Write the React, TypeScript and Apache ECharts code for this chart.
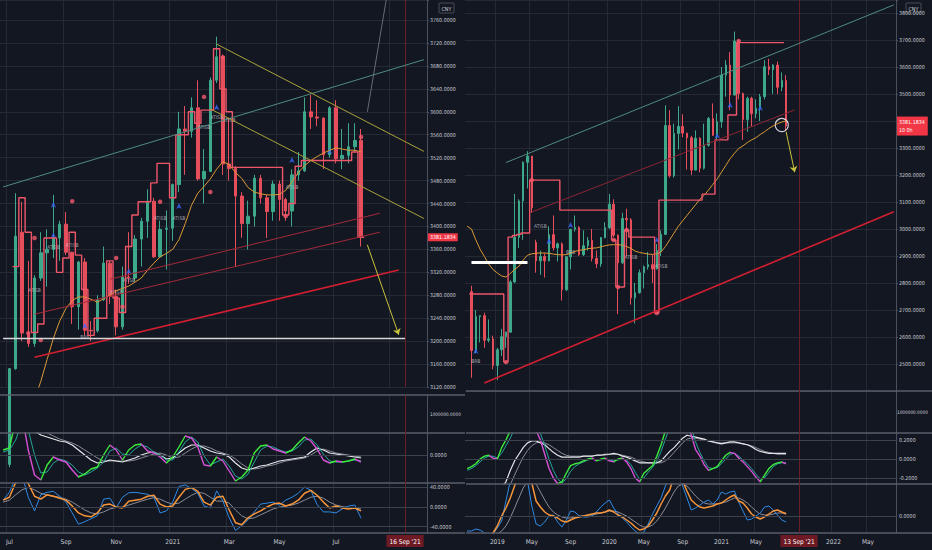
import React, { useEffect, useRef } from "react";
import * as echarts from "echarts";

// ---------- categories / time axes ----------
const LEFT_START = "2020-06-22";
const LEFT_COUNT = 68;
const LEFT_STEP = 7;
const RIGHT_START = "2018-09-24";
const RIGHT_COUNT = 100;
const RIGHT_STEP = 14;
const LEFT_LABEL_MONTHS = [0, 2, 4, 6, 8, 10];
const RIGHT_LABEL_MONTHS = [0, 4, 8];
const MONTH_NAMES = ["Jan", "Feb", "Mar", "Apr", "May", "Jun", "Jul", "Aug", "Sep", "Oct", "Nov", "Dec"];

const LEFT_TODAY_IDX = 64;
const LEFT_TODAY_TEXT = "16 Sep '21";
const RIGHT_TODAY_IDX = 77;
const RIGHT_TODAY_TEXT = "13 Sep '21";
const LAST_PRICE = 3381.1834;
const RIGHT_COUNTDOWN = "10 0h";

// ---------- tick levels ----------
const LEFT_PRICE_MIN = 3120;
const LEFT_PRICE_TOP = 3795;
const LEFT_PRICE_STEP = 40;
const LEFT_PRICE_LAST_LABEL = 3760;
const RIGHT_PRICE_MIN = 2400;
const RIGHT_PRICE_TOP = 3848;
const RIGHT_PRICE_STEP = 100;
const RIGHT_PRICE_FIRST_LABEL = 2500;
const RIGHT_PRICE_LAST_LABEL = 3800;
const VOLUME_LEVELS = [1000000];
const LEFT_OSC1_LEVELS = [0];
const LEFT_OSC2_LEVELS = [40, 0, -40];
const RIGHT_OSC1_LEVELS = [0.2, 0, -0.2];
const RIGHT_OSC2_LEVELS = [0];

// ---------- left chart (weekly) : [open, close, low, high] ----------
const LEFT_CANDLE_START = 1;
const leftCandles = [
  [2985, 3152, 2980, 3153], [3152, 3383, 3150, 3458], [3390, 3214, 3200, 3443], [3214, 3196, 3190, 3340],
  [3196, 3310, 3190, 3315], [3310, 3354, 3305, 3390], [3354, 3360, 3295, 3395], [3360, 3380, 3345, 3455],
  [3380, 3404, 3340, 3410], [3404, 3355, 3350, 3425], [3355, 3260, 3230, 3356], [3260, 3338, 3220, 3340],
  [3338, 3219, 3210, 3345], [3219, 3218, 3200, 3235], [3218, 3272, 3215, 3280], [3272, 3336, 3270, 3365],
  [3336, 3278, 3265, 3340], [3278, 3225, 3210, 3290], [3225, 3312, 3220, 3330], [3312, 3310, 3300, 3390],
  [3310, 3378, 3305, 3385], [3378, 3409, 3330, 3415], [3409, 3444, 3380, 3465], [3444, 3347, 3345, 3450],
  [3347, 3395, 3345, 3410], [3395, 3397, 3325, 3428], [3397, 3473, 3375, 3475], [3473, 3570, 3460, 3600],
  [3570, 3566, 3490, 3610], [3566, 3607, 3555, 3625], [3607, 3483, 3480, 3655], [3483, 3496, 3440, 3535],
  [3496, 3655, 3495, 3660], [3655, 3696, 3650, 3731], [3696, 3509, 3490, 3700], [3509, 3501, 3480, 3590],
  [3501, 3453, 3330, 3505], [3453, 3405, 3380, 3460], [3405, 3418, 3360, 3445], [3418, 3484, 3400, 3490],
  [3484, 3450, 3440, 3490], [3450, 3426, 3380, 3455], [3426, 3474, 3410, 3480], [3474, 3447, 3410, 3480],
  [3447, 3427, 3410, 3450], [3427, 3490, 3400, 3500], [3490, 3497, 3480, 3530], [3497, 3600, 3495, 3625],
  [3600, 3591, 3570, 3630], [3591, 3589, 3575, 3620], [3589, 3525, 3500, 3590], [3525, 3607, 3520, 3610],
  [3607, 3518, 3510, 3620], [3518, 3524, 3500, 3570], [3524, 3539, 3510, 3580], [3539, 3550, 3530, 3580],
  [3550, 3381, 3365, 3570],
];
const leftMA = [
  null, null, null, null, 3070, 3098, 3130, 3168, 3205, 3235,
  3257, 3271, 3277, 3277, 3273, 3268, 3274, 3280, 3288, 3292,
  3296, 3303, 3310, 3324, 3336, 3347, 3353, 3360, 3377, 3405,
  3437, 3458, 3470, 3483, 3500, 3513, 3508, 3494, 3484, 3468,
  3460, 3457, 3455, 3455, 3456, 3463, 3478, 3494, 3506, 3515,
  3522, 3528, 3533, 3537, 3535, 3533, 3533, 3530,
];
const leftStop = [
  null, null, 3330, 3450, 3390, 3215, 3230, 3380, 3380, 3320,
  3345, 3390, 3350, 3290, 3210, 3240, 3240, 3340, 3275, 3250,
  3365, 3420, 3443, 3443, 3476, 3510, 3510, 3450, 3560, 3560,
  3600, 3580, 3603, 3603, 3710, 3640, 3600, 3503, 3503, 3503,
  3503, 3503, 3503, 3503, 3503, 3420, 3440, 3505, 3515, 3515,
  3515, 3515, 3515, 3515, 3515, 3515, 3530, 3381,
];
const leftRedDots = [[4, 3214], [5, 3380], [6, 3202], [11, 3444], [18, 3345], [19, 3260], [25, 3443], [32, 3626], [33, 3460], [35, 3695], [45, 3418], [57, 3556]];
const leftBlueMarks = [[8, 3443], [8, 3390], [13, 3232], [20, 3327], [28, 3441], [34, 3613], [46, 3521], [52, 3537]];
const leftTags = [
  [5, 3289, "ATISB"], [8, 3364, "ATISB"], [11, 3368, "ATISB"], [18, 3286, "ATISB"], [20, 3307, "ATISB"],
  [25, 3415, "ATISB"], [28, 3415, "ATISB"], [32, 3573, "ATISB"], [34, 3591, "ATISB"], [36, 3586, "ATISB"],
  [46, 3469, "ATISB"], [13, 3207, "BRB"],
];
// trend lines: [fromIdx, fromPrice, toIdx, toPrice]
const leftTealLine = [0, 3469, 67, 3691];
const leftSteepLine = [58, 3600, 61, 3795];
const leftYellowUpper = [34, 3718, 67, 3531];
const leftYellowLower = [33, 3605, 67, 3414];
const leftRedThick = [5, 3172, 63, 3324];
const leftRedThinA = [5, 3247, 60, 3390];
const leftRedThinB = [17, 3308, 60, 3423];
const leftWhiteLevel = [0, 3205, 64, 3205];
const leftYellowArrow = [58, 3368, 63, 3211];

const leftOscFast = [
  0.05, 0.07, 0.35, 0.40, 0.05, -0.20, -0.25, -0.10, -0.02, -0.05,
  -0.07, -0.15, -0.22, -0.19, -0.14, -0.12, 0.00, 0.10, 0.05, -0.05,
  0.05, 0.10, 0.11, 0.04, 0.02, -0.02, -0.08, -0.02, 0.08, 0.19,
  0.17, 0.08, -0.10, -0.11, -0.02, -0.06, -0.16, -0.26, -0.22, -0.15,
  0.02, 0.09, 0.10, 0.06, 0.04, 0.02, 0.05, 0.12, 0.18, 0.14,
  0.06, -0.05, -0.08, -0.06, -0.07, -0.06, -0.04, -0.07,
];
const leftOscSignal = [
  0.03, 0.05, 0.15, 0.33, 0.25, 0.0, -0.18, -0.17, -0.08, -0.04,
  -0.06, -0.10, -0.17, -0.20, -0.17, -0.13, -0.07, 0.04, 0.07, 0.01,
  0.0, 0.06, 0.10, 0.08, 0.03, 0.0, -0.05, -0.05, 0.03, 0.13,
  0.18, 0.13, -0.01, -0.10, -0.07, -0.04, -0.11, -0.21, -0.24, -0.19,
  -0.07, 0.05, 0.09, 0.08, 0.05, 0.03, 0.04, 0.08, 0.15, 0.16,
  0.10, 0.01, -0.06, -0.07, -0.07, -0.06, -0.05, -0.06,
];
const leftOscSlow = [
  0.45, 0.5, 0.5, 0.45, 0.32, 0.24, 0.20, 0.18, 0.16, 0.14,
  0.13, 0.10, 0.05, 0.0, -0.05, -0.08, -0.07, -0.05, -0.06, -0.07,
  -0.05, -0.03, 0.0, 0.02, 0.03, 0.0, -0.04, -0.03, 0.02, 0.07,
  0.10, 0.10, 0.07, 0.04, 0.02, 0.01, -0.02, -0.08, -0.13, -0.15,
  -0.13, -0.11, -0.10, -0.08, -0.06, -0.05, -0.04, -0.03, -0.02, 0.03,
  0.07, 0.05, 0.02, 0.01, 0.0, -0.01, -0.02, -0.03,
];
const leftOscSlowSignal = [
  0.5, 0.5, 0.5, 0.48, 0.42, 0.34, 0.27, 0.22, 0.19, 0.16,
  0.14, 0.12, 0.09, 0.05, 0.01, -0.03, -0.06, -0.06, -0.06, -0.06,
  -0.06, -0.05, -0.03, -0.01, 0.01, 0.02, 0.0, -0.03, -0.02, 0.02,
  0.06, 0.09, 0.09, 0.07, 0.04, 0.02, 0.0, -0.04, -0.09, -0.13,
  -0.14, -0.13, -0.11, -0.1, -0.08, -0.06, -0.05, -0.04, -0.03, 0.0,
  0.04, 0.06, 0.04, 0.02, 0.01, 0.0, -0.01, -0.02,
];
const leftMomOrange = [
  14, 20, 50, 60, 48, 22, 16, 25, 22, 18,
  14, 2, -12, -18, -20, -12, 4, 6, 0, -2,
  12, 14, 16, 22, 24, 6, 0, 2, 20, 36,
  40, 32, 10, 4, 20, 22, -6, -32, -36, -22,
  -14, -8, 0, 6, 8, 2, 6, 14, 28, 34,
  24, 10, -2, 2, -2, -4, -2, -8,
];
const leftMomBlue = [
  14, 30, 60, 65, 20, -8, 25, 30, 32, 22,
  10, -12, -35, -30, -24, -18, 16, 18, -2, 20,
  29, 30, 28, 26, 20, -12, -8, 10, 42, 45,
  38, 28, 2, -2, 33, 12, -22, -48, -38, -26,
  -10, 6, 8, 10, 4, 14, 20, 28, 41, 34,
  5, -10, -10, -12, -4, 2, 4, -23,
];
const leftMomGray = [
  10, 14, 25, 35, 40, 35, 28, 24, 22, 20,
  16, 10, 2, -6, -12, -14, -10, -4, -1, 0,
  4, 8, 12, 16, 19, 16, 10, 6, 8, 16,
  24, 30, 28, 20, 12, 12, 8, -6, -18, -24,
  -22, -16, -10, -4, 0, 2, 4, 8, 14, 20,
  22, 18, 10, 4, 1, -1, -2, -4,
];

// ---------- right chart (two-week bars) : [open, close, low, high] ----------
const RIGHT_CANDLE_START = 1;
const rightCandles = [
  [2768, 2550, 2449, 2790], [2550, 2676, 2540, 2700], [2676, 2679, 2580, 2680], [2679, 2588, 2560, 2690],
  [2588, 2593, 2580, 2665], [2593, 2494, 2480, 2605], [2494, 2553, 2440, 2560], [2553, 2601, 2530, 2630],
  [2601, 2618, 2560, 2620], [2618, 2804, 2615, 2810], [2804, 2969, 2800, 3130], [2969, 3104, 2930, 3110],
  [3104, 3247, 2960, 3250], [3247, 3270, 3150, 3288], [3270, 3078, 3060, 3270], [2950, 2882, 2838, 2960],
  [2882, 2898, 2830, 2920], [2898, 2882, 2820, 2910], [2882, 2979, 2880, 3010], [2979, 2930, 2920, 3050],
  [2930, 2945, 2880, 2950], [2945, 2775, 2735, 2950], [2775, 2897, 2770, 2900], [2897, 2999, 2850, 3000],
  [2999, 3006, 2990, 3050], [3006, 2905, 2900, 3010], [2905, 2938, 2900, 2995], [2938, 2958, 2920, 2970],
  [2958, 2891, 2880, 3000], [2891, 2871, 2855, 2920], [2871, 2968, 2860, 2970], [2968, 3005, 2965, 3025],
  [3005, 3092, 3000, 3130], [3092, 2977, 2970, 3110], [2977, 2875, 2685, 2980], [2875, 3039, 2870, 3060],
  [3039, 3034, 2900, 3075], [3034, 2745, 2720, 3040], [2745, 2764, 2650, 2800], [2764, 2838, 2760, 2850],
  [2838, 2860, 2780, 2865], [2860, 2868, 2850, 2915], [2868, 2852, 2800, 2905], [2852, 2920, 2850, 2945],
  [2920, 2980, 2900, 2995], [2980, 3383, 2980, 3458], [3383, 3197, 3190, 3440], [3197, 3354, 3190, 3390],
  [3354, 3380, 3295, 3455], [3380, 3355, 3340, 3425], [3355, 3338, 3220, 3356], [3338, 3218, 3200, 3345],
  [3218, 3336, 3218, 3365], [3336, 3225, 3210, 3340], [3225, 3310, 3220, 3390], [3310, 3409, 3305, 3415],
  [3409, 3347, 3345, 3465], [3347, 3397, 3325, 3428], [3397, 3570, 3375, 3600], [3570, 3607, 3490, 3625],
  [3607, 3496, 3440, 3655], [3496, 3696, 3495, 3731], [3696, 3502, 3480, 3700], [3502, 3405, 3330, 3505],
  [3405, 3484, 3360, 3490], [3484, 3427, 3380, 3490], [3427, 3447, 3410, 3480], [3447, 3490, 3400, 3500],
  [3490, 3601, 3480, 3625], [3601, 3590, 3570, 3630], [3590, 3607, 3500, 3610], [3607, 3525, 3500, 3620],
  [3525, 3550, 3510, 3580], [3550, 3381, 3365, 3570],
];
const rightMA = [
  3010, 3000, 2960, 2925, 2898, 2870, 2850, 2837, 2826, 2822,
  2835, 2850, 2862, 2885, 2903, 2908, 2910, 2911, 2911, 2910,
  2907, 2905, 2904, 2905, 2910, 2917, 2921, 2923, 2927, 2929,
  2930, 2934, 2938, 2941, 2942, 2942, 2940, 2935, 2928, 2918,
  2913, 2910, 2907, 2906, 2908, 2915, 2935, 2960, 2985, 3010,
  3030, 3050, 3070, 3090, 3110, 3125, 3144, 3165, 3185, 3210,
  3235, 3260, 3280, 3298, 3308, 3320, 3330, 3338, 3350, 3360,
  3372, 3382, 3390, 3396, 3400,
];
const rightStop = [
  null, 2759, 2759, 2759, 2759, 2759, 2759, 2759, 2759, 2507,
  2970, 2976, 2980, 2985, 2985, 3181, 3181, 3181, 3181, 3181,
  3181, 3181, 3070, 3070, 3070, 3070, 3070, 3070, 3070, 3070,
  3070, 3070, 3070, 3070, 2959, 2785, 2785, 2996, 2970, 2970,
  2970, 2970, 2970, 2970, 2689, 3107, 3107, 3107, 3107, 3107,
  3107, 3107, 3107, 3107, 3107, 3129, 3129, 3129, 3330, 3330,
  3330, 3422, 3422, 3690, 3690, 3690, 3690, 3690, 3690, 3690,
  3690, 3690, 3690, 3690, null,
];
const rightRedDots = [[9, 2507], [15, 3181], [34, 2959], [35, 2785], [37, 2996], [44, 2689], [63, 3696]];
const rightBlueMarks = [[2, 2559], [19, 2967], [24, 3026], [44, 2970], [58, 3356], [61, 3470], [68, 3459]];
const rightTags = [[2, 2511, "BRB"], [17, 3011, "ATISB"], [24, 2915, "BRB"], [38, 2896, "ATISB"], [45, 2863, "ATISB"]];
const rightTealLine = [9, 3246, 99, 3830];
const rightRedThin = [15, 3063, 76, 3441];
const rightRedThick = [4, 2430, 99, 3064];
const rightWhiteLevel = [1, 2878, 14, 2878];
const rightYellowArrow = [74, 3360, 76, 3210];
const rightCircle = [73, 3385];

const rightOscFast = [
  -0.1, -0.08, -0.05, 0.0, 0.03, 0.04, 0.01, 0.0, 0.12, 0.2,
  0.3, 0.4, 0.5, 0.5, 0.45, 0.4, 0.3, 0.2, 0.05, -0.1,
  -0.2, -0.26, -0.24, -0.15, -0.07, -0.05, -0.04, -0.02, 0.0, 0.01,
  -0.02, 0.0, 0.01, -0.02, -0.03, 0.0, 0.01, -0.03, -0.1, -0.2,
  -0.24, -0.15, -0.11, -0.07, 0.03, 0.15, 0.3, 0.4, 0.5, 0.5,
  0.45, 0.4, 0.25, 0.1, 0.03, -0.06, -0.12, -0.1, -0.08, -0.02,
  0.04, 0.07, 0.06, 0.01, -0.03, -0.08, -0.13, -0.19, -0.24, -0.17,
  -0.1, -0.06, -0.04, -0.03, -0.05,
];
const rightOscSignal = [
  -0.12, -0.1, -0.07, -0.03, 0.01, 0.03, 0.03, 0.01, 0.06, 0.14,
  0.22, 0.32, 0.42, 0.48, 0.48, 0.44, 0.37, 0.27, 0.14, 0.0,
  -0.12, -0.21, -0.25, -0.21, -0.13, -0.08, -0.05, -0.03, -0.01, 0.0,
  -0.01, -0.01, 0.0, -0.01, -0.02, -0.01, 0.0, -0.01, -0.06, -0.14,
  -0.21, -0.2, -0.14, -0.09, -0.02, 0.08, 0.21, 0.34, 0.44, 0.48,
  0.47, 0.43, 0.33, 0.18, 0.07, -0.02, -0.09, -0.1, -0.09, -0.05,
  0.0, 0.05, 0.06, 0.03, -0.01, -0.05, -0.1, -0.16, -0.21, -0.2,
  -0.14, -0.08, -0.05, -0.04, -0.04,
];
const rightOscSlow = [
  -0.6, -0.6, -0.6, -0.58, -0.55, -0.5, -0.45, -0.38, -0.3, -0.24,
  -0.12, -0.02, 0.05, 0.12, 0.17, 0.19, 0.19, 0.17, 0.15, 0.11,
  0.07, 0.04, 0.02, 0.02, 0.02, 0.02, 0.02, 0.03, 0.03, 0.03,
  0.04, 0.04, 0.05, 0.05, 0.06, 0.05, 0.03, 0.02, 0.0, -0.02,
  -0.04, -0.04, -0.04, -0.04, -0.04, -0.02, 0.03, 0.08, 0.12, 0.17,
  0.22, 0.25, 0.24, 0.23, 0.22, 0.21, 0.19, 0.18, 0.17, 0.16,
  0.17, 0.18, 0.18, 0.17, 0.16, 0.15, 0.13, 0.1, 0.08, 0.07,
  0.06, 0.06, 0.06, 0.06, 0.06,
];
const rightOscSlowSignal = [
  -0.6, -0.6, -0.6, -0.6, -0.6, -0.58, -0.54, -0.48, -0.42, -0.35,
  -0.27, -0.17, -0.07, 0.02, 0.09, 0.14, 0.17, 0.18, 0.17, 0.15,
  0.12, 0.09, 0.06, 0.04, 0.03, 0.03, 0.03, 0.03, 0.03, 0.03,
  0.04, 0.04, 0.04, 0.05, 0.05, 0.05, 0.04, 0.03, 0.02, 0.0,
  -0.02, -0.03, -0.04, -0.04, -0.04, -0.04, -0.02, 0.02, 0.07, 0.12,
  0.17, 0.21, 0.22, 0.22, 0.21, 0.2, 0.19, 0.18, 0.17, 0.17,
  0.17, 0.17, 0.17, 0.17, 0.16, 0.15, 0.14, 0.12, 0.1, 0.08,
  0.07, 0.06, 0.05, 0.05, 0.05,
];
const rightMomOrange = [
  -30, -30, -28, -26, -24, -22, -17, -10, 0, 8,
  18, 30, 42, 50, 48, 33, 15, 9, 4, 1,
  0, -2, -5, -6, -4, -2, -1, 0, 1, 2,
  3, 3, 4, 6, 4, 1, -1, -4, -7, -11,
  -14, -13, -10, -4, 3, 12, 20, 26, 40, 45,
  35, 25, 16, 12, 9, 8, 9, 10, 12, 13,
  16, 19, 21, 15, 13, 8, 2, -1, -3, -1,
  2, 5, 6, 4, 2,
];
const rightMomBlue = [
  -15, -15, -13, -14, -17, -20, -18, -12, -5, 15,
  35, 50, 55, 50, 35, 10, -8, -10, -6, 0,
  1, -6, -11, -4, 5, 4, 0, -1, -1, 0,
  4, 9, 13, 16, 8, 2, -2, -6, -11, -15,
  -18, -16, -8, 2, 10, 18, 30, 40, 45, 40,
  30, 18, 6, 8, 11, 14, 16, 12, 16, 24,
  22, 24, 25, 14, 5, -4, -3, 0, 3, 9,
  10, 6, 1, -4, -6,
];
const rightMomGray = [
  -20, -20, -20, -20, -20, -20, -20, -18, -15, -10,
  -2, 8, 18, 28, 34, 36, 32, 24, 16, 9,
  4, 1, -1, -2, -2, -1, 0, 0, 1, 1,
  2, 3, 4, 5, 5, 4, 2, 0, -3, -6,
  -9, -11, -11, -9, -5, 1, 8, 16, 24, 30,
  32, 30, 25, 20, 16, 13, 12, 12, 12, 13,
  14, 16, 18, 18, 16, 13, 9, 5, 2, 1,
  1, 2, 3, 3, 3,
];

// ---------- styling ----------
const BG = "#131722";
const GRID = "#252934";
const AXIS = "#4c505b";
const SEP = "#5a5e6a";
const TEXT = "#c9ccd3";
const UP = "#3ea98a";
const DOWN = "#e64e5c";
const STOP = "#f0566a";
const MA = "#dc9a36";
const TODAY = "#6a1d27";
const FONT = "'Liberation Sans Narrow','DejaVu Sans Condensed',Roboto,sans-serif";
const AXIS_FS = 5.3;
const VOLUME_FS = 4.7;

// ---------- helpers ----------
const DAY = 86400000;
function parseDate(s: string) {
  const [y, m, d] = s.split("-").map(Number);
  return Date.UTC(y, m - 1, d);
}
function buildCats(start: string, count: number, step: number) {
  const t0 = parseDate(start);
  const out: string[] = [];
  for (let i = 0; i < count; i++) out.push(new Date(t0 + i * step * DAY).toISOString().slice(0, 10));
  return out;
}
function buildLabels(start: string, count: number, step: number, months: number[], todayIdx: number) {
  const t0 = parseDate(start);
  const map: Record<number, string> = {};
  for (let i = 0; i < count; i++) {
    if (Math.abs(i - todayIdx) <= 1) continue; // hidden behind the date marker
    for (let k = 0; k < step; k++) {
      const d = new Date(t0 + (i * step + k) * DAY);
      if (d.getUTCDate() === 1 && months.includes(d.getUTCMonth())) {
        map[i] = d.getUTCMonth() === 0 ? String(d.getUTCFullYear()) : MONTH_NAMES[d.getUTCMonth()];
      }
    }
  }
  return map;
}
function pad(vals: (number | null)[], count: number) {
  const out: any[] = [];
  for (let i = 0; i < count; i++) {
    const v = vals[i];
    out.push(v == null ? "-" : v);
  }
  return out;
}
function candleData(list: number[][], start: number, count: number) {
  const out: any[] = [];
  for (let i = 0; i < count; i++) {
    const k = i - start;
    out.push(k >= 0 && k < list.length ? list[k] : ["-", "-", "-", "-"]);
  }
  return out;
}
function slopePieces(vals: number[], upColor: string, downColor: string) {
  const pieces: any[] = [];
  let start = -1;
  let color = "";
  for (let i = 1; i < vals.length; i++) {
    const c = vals[i] >= vals[i - 1] ? upColor : downColor;
    if (c === color) continue;
    if (color) pieces.push({ gte: start, lt: i - 1, color });
    start = i - 1;
    color = c;
  }
  if (color) pieces.push({ gte: start, lte: vals.length - 1, color });
  return pieces;
}
function seg(l: number[], color: string, width: number, arrow = false) {
  return [
    { coord: [l[0], l[1]], symbol: "none", lineStyle: { color, width, type: "solid", opacity: 1 } },
    { coord: [l[2], l[3]], symbol: arrow ? "arrow" : "none", symbolSize: arrow ? 6 : 0 },
  ];
}
function todayLine(idx: number, text?: string) {
  return {
    xAxis: idx,
    lineStyle: { color: TODAY, width: 1, type: "solid" },
    label: text
      ? {
          show: true,
          position: "start",
          formatter: text,
          backgroundColor: "#6e1a24",
          color: "#ffffff",
          fontSize: 6.5,
          fontFamily: FONT,
          padding: [3, 3, 2, 3],
          distance: 2,
        }
      : { show: false },
  };
}
function levelLines(levels: number[], visible = true, fontSize = AXIS_FS, distance = 3) {
  return levels.map((v) => ({
    yAxis: v,
    lineStyle: { color: visible ? "#3d414c" : "rgba(0,0,0,0)", width: 1, type: "solid" },
    label: {
      show: true,
      position: "end",
      formatter: v.toFixed(4),
      color: TEXT,
      fontSize,
      fontFamily: FONT,
      distance,
    },
  }));
}
function markLineOf(data: any[]) {
  return { silent: true, symbol: "none", animation: false, label: { show: false }, data };
}
function xAxisFor(gridIndex: number, cats: string[], labels: Record<number, string>, showLabels: boolean) {
  return {
    type: "category",
    gridIndex,
    data: cats,
    boundaryGap: true,
    axisLine: { show: false },
    axisTick: { show: false },
    axisLabel: {
      show: showLabels,
      interval: (i: number) => labels[i] !== undefined,
      formatter: (_v: string, i: number) => labels[i] ?? "",
      color: TEXT,
      fontSize: 6.5,
      fontFamily: FONT,
      margin: 5,
    },
    splitLine: { show: true, interval: (i: number) => labels[i] !== undefined, lineStyle: { color: GRID, width: 1 } },
  };
}
function priceYAxis(gridIndex: number, min: number, max: number, step: number, lo: number, hi: number) {
  return {
    type: "value",
    gridIndex,
    position: "right",
    min,
    max,
    interval: step,
    axisLine: { show: true, lineStyle: { color: AXIS } },
    axisTick: { show: true, length: 2, lineStyle: { color: AXIS } },
    axisLabel: {
      color: TEXT,
      fontSize: AXIS_FS,
      fontFamily: FONT,
      margin: 3,
      formatter: (v: number) => (v < lo || v > hi ? "" : v.toFixed(4)),
    },
    splitLine: { show: true, lineStyle: { color: GRID, width: 1 } },
  };
}
function paneYAxis(gridIndex: number, min: number, max: number) {
  return {
    type: "value",
    gridIndex,
    position: "right",
    min,
    max,
    axisLine: { show: true, lineStyle: { color: AXIS } },
    axisTick: { show: false },
    axisLabel: { show: false },
    splitLine: { show: false },
  };
}
function line(xi: number, data: any[], color: string | null, width: number, extra: any = {}) {
  return {
    type: "line",
    xAxisIndex: xi,
    yAxisIndex: xi,
    data,
    showSymbol: false,
    symbol: "none",
    connectNulls: false,
    silent: true,
    lineStyle: color ? { color, width } : { width },
    ...extra,
  };
}
function scatter(xi: number, pts: number[][], color: string, symbol: string, size: any) {
  return {
    type: "scatter",
    xAxisIndex: xi,
    yAxisIndex: xi,
    data: pts,
    symbol,
    symbolSize: size,
    silent: true,
    itemStyle: { color },
  };
}
function tags(xi: number, list: any[]) {
  return {
    type: "scatter",
    xAxisIndex: xi,
    yAxisIndex: xi,
    symbolSize: 1,
    silent: true,
    itemStyle: { color: "rgba(0,0,0,0)" },
    data: list.map((t) => ({ value: [t[0], t[1]], name: t[2] })),
    label: { show: true, position: "inside", formatter: "{b}", color: "#c3c6ce", fontSize: 5, fontFamily: FONT },
  };
}

function buildOption() {
  const leftCats = buildCats(LEFT_START, LEFT_COUNT, LEFT_STEP);
  const rightCats = buildCats(RIGHT_START, RIGHT_COUNT, RIGHT_STEP);
  const leftLabels = buildLabels(LEFT_START, LEFT_COUNT, LEFT_STEP, LEFT_LABEL_MONTHS, -10);
  const rightLabels = buildLabels(RIGHT_START, RIGHT_COUNT, RIGHT_STEP, RIGHT_LABEL_MONTHS, RIGHT_TODAY_IDX);
  const L = LEFT_COUNT;
  const R = RIGHT_COUNT;

  const grids = [
    { left: 0, width: 427, top: 0, height: 387 },
    { left: 0, width: 427, top: 395, height: 38 },
    { left: 0, width: 427, top: 433, height: 50 },
    { left: 0, width: 427, top: 483, height: 50 },
    { left: 465, width: 431, top: 0, height: 391 },
    { left: 465, width: 431, top: 391, height: 42 },
    { left: 465, width: 431, top: 433, height: 51 },
    { left: 465, width: 431, top: 484, height: 49 },
  ];

  const xAxes = [
    xAxisFor(0, leftCats, leftLabels, false),
    xAxisFor(1, leftCats, leftLabels, false),
    xAxisFor(2, leftCats, leftLabels, false),
    xAxisFor(3, leftCats, leftLabels, true),
    xAxisFor(4, rightCats, rightLabels, false),
    xAxisFor(5, rightCats, rightLabels, false),
    xAxisFor(6, rightCats, rightLabels, false),
    xAxisFor(7, rightCats, rightLabels, true),
  ];
  const yAxes = [
    priceYAxis(0, LEFT_PRICE_MIN, LEFT_PRICE_TOP, LEFT_PRICE_STEP, LEFT_PRICE_MIN, LEFT_PRICE_LAST_LABEL),
    paneYAxis(1, 0, 2000000),
    paneYAxis(2, -0.28, 0.22),
    paneYAxis(3, -53, 49),
    priceYAxis(4, RIGHT_PRICE_MIN, RIGHT_PRICE_TOP, RIGHT_PRICE_STEP, RIGHT_PRICE_FIRST_LABEL, RIGHT_PRICE_LAST_LABEL),
    paneYAxis(5, 0, 2000000),
    paneYAxis(6, -0.263, 0.274),
    paneYAxis(7, -17, 32),
  ];

  const series: any[] = [];
  const candleStyle = { color: UP, color0: DOWN, borderColor: UP, borderColor0: DOWN, borderWidth: 1 };

  // ----- left price -----
  series.push({
    type: "candlestick",
    xAxisIndex: 0,
    yAxisIndex: 0,
    data: candleData(leftCandles, LEFT_CANDLE_START, L),
    barWidth: 3,
    silent: true,
    itemStyle: candleStyle,
    markLine: markLineOf([
      todayLine(LEFT_TODAY_IDX),
      seg(leftTealLine, "#4f8c7d", 1),
      seg(leftSteepLine, "#7d808a", 0.8),
      seg(leftYellowUpper, "#a9a23b", 1),
      seg(leftYellowLower, "#a9a23b", 1),
      seg(leftRedThick, "#d21f31", 1.6),
      seg(leftRedThinA, "#a32a3a", 1),
      seg(leftRedThinB, "#a32a3a", 1),
      seg(leftWhiteLevel, "#d8d8d8", 1.3),
      seg(leftYellowArrow, "#c9c23b", 1, true),
      {
        yAxis: LAST_PRICE,
        lineStyle: { color: "rgba(0,0,0,0)", width: 0 },
        label: {
          show: true,
          position: "end",
          formatter: LAST_PRICE.toFixed(4),
          backgroundColor: "#f23645",
          color: "#ffffff",
          fontSize: AXIS_FS,
          fontFamily: FONT,
          padding: [2, 2, 1, 2],
          distance: 1,
        },
      },
    ]),
  });
  series.push(line(0, pad(leftMA, L), MA, 1));
  series.push(line(0, pad(leftStop, L), STOP, 1.4, { step: "middle" }));
  series.push(scatter(0, leftRedDots, "#f4596b", "circle", 4.5));
  series.push(scatter(0, leftBlueMarks, "#3a68ff", "arrow", [4, 6]));
  series.push(tags(0, leftTags));
  // ----- left volume pane -----
  series.push(line(1, pad([], L), "#888", 1, {
    markLine: markLineOf([todayLine(LEFT_TODAY_IDX), ...levelLines(VOLUME_LEVELS, false, VOLUME_FS, 3)]),
  }));
  // ----- left oscillator -----
  series.push(line(2, pad(leftOscSlowSignal, L), "#8a8d96", 1, {
    markLine: markLineOf([todayLine(LEFT_TODAY_IDX), ...levelLines(LEFT_OSC1_LEVELS)]),
  }));
  series.push(line(2, pad(leftOscSlow, L), "#e6e6ea", 1.2));
  series.push(line(2, pad(leftOscSignal, L), "#26a69a", 1));
  const leftFastIndex = series.length;
  series.push(line(2, pad(leftOscFast, L), null, 1.4));
  // ----- left momentum -----
  series.push(line(3, pad(leftMomGray, L), "#8a8d96", 1, {
    markLine: markLineOf([todayLine(LEFT_TODAY_IDX, LEFT_TODAY_TEXT), ...levelLines(LEFT_OSC2_LEVELS)]),
  }));
  series.push(line(3, pad(leftMomBlue, L), "#2f8be6", 1));
  series.push(line(3, pad(leftMomOrange, L), "#f7953a", 1.5));

  // ----- right price -----
  series.push({
    type: "candlestick",
    xAxisIndex: 4,
    yAxisIndex: 4,
    data: candleData(rightCandles, RIGHT_CANDLE_START, R),
    barWidth: 2,
    silent: true,
    itemStyle: candleStyle,
    markLine: markLineOf([
      todayLine(RIGHT_TODAY_IDX),
      seg(rightTealLine, "#4f8c7d", 1),
      seg(rightRedThin, "#8e2434", 1),
      seg(rightRedThick, "#d21f31", 1.6),
      seg(rightWhiteLevel, "#ffffff", 3),
      seg(rightYellowArrow, "#c9c23b", 1, true),
      {
        yAxis: LAST_PRICE,
        lineStyle: { color: "rgba(0,0,0,0)", width: 0 },
        label: {
          show: true,
          position: "end",
          formatter: LAST_PRICE.toFixed(4) + "\n" + RIGHT_COUNTDOWN,
          backgroundColor: "#f23645",
          color: "#ffffff",
          fontSize: AXIS_FS,
          lineHeight: 8,
          fontFamily: FONT,
          padding: [2, 3, 1, 2],
          distance: 1,
        },
      },
    ]),
  });
  series.push(line(4, pad(rightMA, R), MA, 1));
  series.push(line(4, pad(rightStop, R), STOP, 1.4, { step: "middle" }));
  series.push(scatter(4, rightRedDots, "#f4596b", "circle", 4.5));
  series.push(scatter(4, rightBlueMarks, "#3a68ff", "arrow", [4, 6]));
  series.push(tags(4, rightTags));
  series.push({
    type: "scatter",
    xAxisIndex: 4,
    yAxisIndex: 4,
    data: [rightCircle],
    symbol: "circle",
    symbolSize: 13,
    silent: true,
    itemStyle: { color: "rgba(0,0,0,0)", borderColor: "#ffffff", borderWidth: 1.2 },
  });
  // ----- right volume pane -----
  series.push(line(5, pad([], R), "#888", 1, {
    markLine: markLineOf([todayLine(RIGHT_TODAY_IDX), ...levelLines(VOLUME_LEVELS, false, VOLUME_FS, 1)]),
  }));
  // ----- right oscillator -----
  series.push(line(6, pad(rightOscSlowSignal, R), "#8a8d96", 1, {
    markLine: markLineOf([todayLine(RIGHT_TODAY_IDX), ...levelLines(RIGHT_OSC1_LEVELS)]),
  }));
  series.push(line(6, pad(rightOscSlow, R), "#e6e6ea", 1.2));
  series.push(line(6, pad(rightOscSignal, R), "#26a69a", 1));
  const rightFastIndex = series.length;
  series.push(line(6, pad(rightOscFast, R), null, 1.4));
  // ----- right momentum -----
  series.push(line(7, pad(rightMomGray, R), "#8a8d96", 1, {
    markLine: markLineOf([todayLine(RIGHT_TODAY_IDX, RIGHT_TODAY_TEXT), ...levelLines(RIGHT_OSC2_LEVELS)]),
  }));
  series.push(line(7, pad(rightMomBlue, R), "#2f8be6", 1));
  series.push(line(7, pad(rightMomOrange, R), "#f7953a", 1.5));

  const visualMap = [
    { type: "piecewise", show: false, dimension: 0, seriesIndex: leftFastIndex, pieces: slopePieces(leftOscFast, "#3cec3c", "#d650d6") },
    { type: "piecewise", show: false, dimension: 0, seriesIndex: rightFastIndex, pieces: slopePieces(rightOscFast, "#3cec3c", "#d650d6") },
  ];

  const sepLine = (x1: number, x2: number, y: number) => ({
    type: "line",
    silent: true,
    z: 5,
    shape: { x1, y1: y, x2, y2: y },
    style: { stroke: SEP, lineWidth: 1.5 },
  });
  const cnyBox = (x: number) => ({
    type: "group",
    x,
    y: 3,
    z: 20,
    silent: true,
    children: [
      { type: "rect", shape: { x: 0, y: 0, width: 15, height: 10, r: 1 }, style: { fill: BG, stroke: "#6b6f7a", lineWidth: 0.6 } },
      {
        type: "text",
        x: 7.5,
        y: 5.5,
        style: { text: "CNY", fill: TEXT, fontSize: 5.5, fontFamily: FONT, align: "center", verticalAlign: "middle" },
      },
    ],
  });

  return {
    animation: false,
    backgroundColor: BG,
    textStyle: { fontFamily: FONT },
    grid: grids,
    xAxis: xAxes,
    yAxis: yAxes,
    visualMap,
    series,
    graphic: [
      sepLine(0, 465, 395),
      sepLine(0, 465, 433),
      sepLine(0, 465, 483),
      sepLine(0, 465, 533),
      sepLine(466, 932, 391),
      sepLine(466, 932, 433),
      sepLine(466, 932, 484),
      sepLine(466, 932, 533),
      cnyBox(439),
      cnyBox(906),
    ],
  };
}

export default function App() {
  const ref = useRef<HTMLDivElement>(null);
  useEffect(() => {
    document.body.style.margin = "0";
    document.body.style.background = BG;
    const chart = echarts.init(ref.current as HTMLDivElement, null, { renderer: "svg" });
    chart.setOption(buildOption() as any);
    return () => chart.dispose();
  }, []);
  return (
    <div
      ref={ref}
      style={{ position: "fixed", left: 0, top: 0, width: 932, height: 550, background: BG }}
    />
  );
}
